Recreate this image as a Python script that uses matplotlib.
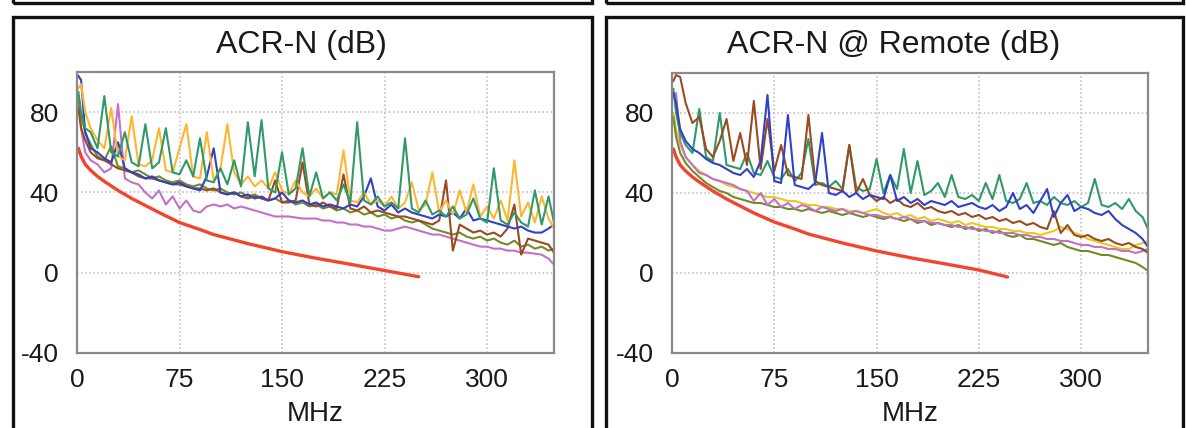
import matplotlib.pyplot as plt
from matplotlib.patches import Rectangle

plt.rcParams['font.family'] = ['Liberation Sans', 'DejaVu Sans']
plt.rcParams['axes.unicode_minus'] = False

W, H = 1186, 428

# frequency points (MHz) shared by the measured traces
freq = [1, 3, 6, 10, 15, 20, 25, 30, 35, 40,
        45, 50, 55, 60, 65, 70, 75, 80, 85, 90,
        95, 100, 105, 110, 115, 120, 125, 130, 135, 140,
        145, 150, 155, 160, 165, 170, 175, 180, 185, 190,
        195, 200, 205, 210, 215, 220, 225, 230, 235, 240,
        245, 250, 255, 260, 265, 270, 275, 280, 285, 290,
        295, 300, 305, 310, 315, 320, 325, 330, 335, 340,
        345, 349]

# limit line
lim_freq_l = [1, 3, 6, 10, 15, 20, 30, 40, 50, 60, 75, 90, 100, 125, 150, 175, 200, 225, 250]
lim_l = [62, 58, 54, 51, 48, 45.5, 41, 37, 33.5, 30, 25, 21.5, 19, 14.5, 10.5, 7.2, 4.2, 1.1, -2]
lim_freq_r = [1, 3, 6, 10, 15, 20, 30, 40, 50, 60, 75, 90, 100, 125, 150, 175, 200, 225, 246]
lim_r = [62, 58, 54, 51, 48, 45.5, 41, 37, 33.5, 30, 25.5, 22, 19.5, 15, 11, 7.6, 4.6, 1.5, -2]

# ---- ACR-N (dB), local end ----
green_l = [90, 80, 72, 70, 62, 88, 60, 58, 70, 55,
           53, 74, 52, 55, 72, 50, 49, 56, 48, 67,
           46, 45, 52, 44, 56, 43, 75, 48, 76, 42,
           40, 60, 39, 42, 62, 38, 50, 37, 40, 36,
           44, 35, 75, 36, 34, 38, 33, 35, 32, 67,
           32, 30, 36, 29, 31, 28, 33, 27, 29, 37,
           27, 25, 52, 26, 24, 30, 25, 23, 41, 24,
           38, 25]
orange_l = [92, 94, 80, 72, 66, 62, 82, 58, 56, 78,
            54, 53, 56, 72, 51, 50, 62, 74, 48, 47,
            70, 46, 52, 74, 50, 44, 48, 43, 46, 42,
            50, 41, 39, 46, 40, 38, 42, 37, 40, 39,
            61, 36, 35, 40, 34, 36, 33, 38, 32, 35,
            45, 31, 34, 50, 30, 36, 29, 41, 30, 44,
            28, 33, 27, 36, 26, 56, 28, 35, 25, 38,
            27, 22]
blue_l = [98, 96, 70, 62, 60, 57, 55, 65, 52, 50,
          49, 47, 48, 46, 45, 44, 45, 43, 42, 41,
          48, 62, 40, 39, 40, 38, 39, 37, 38, 36,
          37, 40, 36, 35, 36, 34, 35, 33, 34, 33,
          32, 34, 33, 38, 47, 33, 31, 34, 30, 32,
          30, 29, 28, 27, 29, 28, 30, 27, 32, 26,
          27, 26, 25, 24, 23, 22, 23, 21, 20, 20,
          22, 24]
brown_l = [82, 72, 66, 60, 57, 56, 54, 52, 51, 50,
           48, 47, 47, 46, 45, 44, 44, 43, 42, 42,
           41, 42, 40, 39, 40, 38, 37, 38, 37, 36,
           46, 35, 35, 36, 55, 34, 33, 35, 33, 32,
           49, 32, 31, 33, 30, 31, 30, 29, 28, 28,
           27, 26, 25, 24, 26, 46, 11, 24, 22, 20,
           21, 19, 20, 18, 22, 34, 9, 17, 16, 15,
           14, 10]
olive_l = [88, 78, 70, 64, 58, 56, 63, 53, 52, 50,
           51, 49, 47, 48, 46, 45, 46, 44, 43, 44,
           42, 41, 42, 40, 39, 40, 38, 39, 37, 36,
           37, 35, 36, 34, 35, 33, 34, 32, 33, 31,
           32, 30, 31, 29, 30, 28, 29, 27, 28, 26,
           25, 26, 24, 22, 21, 20, 19, 20, 18, 17,
           18, 16, 17, 15, 14, 16, 13, 14, 12, 13,
           11, 12]
violet_l = [86, 72, 60, 56, 54, 50, 52, 84, 47, 45,
            44, 40, 37, 41, 34, 38, 32, 36, 31, 30,
            33, 34, 33, 34, 32, 33, 32, 31, 30, 29,
            28, 28, 28, 27.5, 27, 27, 27, 26, 26, 25,
            25, 24, 24, 23, 23, 22, 21, 21, 22, 23,
            22, 21, 20, 19, 19, 18, 17, 16, 15, 14,
            13, 13, 12, 12, 11, 11, 10, 10, 9.5, 9,
            7, 4]

# ---- ACR-N @ Remote (dB) ----
green_r = [92, 80, 70, 64, 60, 82, 58, 56, 80, 54,
           53, 52, 60, 50, 49, 56, 48, 47, 52, 46,
           50, 67, 44, 45, 43, 46, 42, 64, 43, 41,
           42, 57, 40, 49, 42, 62, 40, 56, 39, 41,
           45, 38, 49, 38, 37, 39, 36, 45, 37, 49,
           36, 35, 37, 45, 35, 36, 34, 38, 35, 34,
           36, 33, 35, 47, 34, 33, 35, 32, 37, 31,
           28, 22]
blue_r = [90, 85, 72, 66, 62, 60, 57, 55, 54, 52,
          50, 49, 52, 48, 56, 89, 46, 45, 79, 44,
          43, 42, 45, 70, 40, 39, 41, 38, 40, 37,
          39, 38, 37, 49, 36, 38, 35, 37, 34, 36,
          35, 34, 36, 33, 34, 35, 33, 32, 34, 31,
          33, 40, 32, 34, 30, 36, 42, 28, 35, 39,
          31, 33, 32, 30, 29, 31, 27, 24, 22, 20,
          17, 13]
brown_r = [96, 99, 98, 85, 75, 78, 62, 58, 66, 77,
           56, 70, 54, 86, 52, 77, 51, 64, 49, 48,
           47, 79, 46, 44, 43, 42, 41, 64, 40, 47,
           39, 36, 38, 35, 37, 34, 33, 35, 32, 33,
           31, 30, 31, 29, 30, 28, 29, 27, 28, 26,
           27, 25, 26, 24, 25, 23, 22, 31, 20, 24,
           19, 18, 19, 17, 16, 17, 15, 14, 15, 13,
           12, 10]
yellow_r = [80, 72, 64, 58, 54, 51, 49, 47, 46, 44,
            43, 42, 41, 40, 39, 38, 38, 37, 36, 36,
            35, 34, 34, 33, 33, 32, 32, 31, 31, 30,
            31, 32, 30, 29, 30, 28, 29, 27, 28, 26,
            27, 26, 25, 26, 24, 25, 24, 23, 23, 22,
            22, 21, 21, 20, 20, 19, 20, 21, 23, 22,
            20, 19, 17, 16, 15, 14, 13, 12, 12, 14,
            15, 16]
olive_r = [78, 68, 60, 55, 51, 48, 45, 43, 41, 40,
           38, 37, 36, 35, 35, 34, 33, 33, 32, 32,
           31, 32, 31, 30, 31, 30, 29, 30, 29, 28,
           29, 28, 27, 28, 27, 26, 27, 25, 26, 24,
           25, 24, 23, 24, 22, 23, 21, 22, 20, 21,
           19, 18, 19, 17, 17, 16, 15, 14, 15, 13,
           12, 11, 11, 10, 9, 9, 8, 7, 6, 5,
           3, 1]
violet_r = [88, 90, 66, 58, 54, 50, 49, 47, 46, 45,
            44, 42, 41, 36, 40, 34, 37, 33, 35, 32,
            34, 33, 31, 33, 32, 31, 32, 30, 31, 30,
            29, 29, 28, 28, 27, 28, 27, 26, 26, 25,
            25, 24, 24, 23, 23, 22, 22, 21, 21, 20,
            20, 20, 19, 19, 18, 18, 17, 17, 16, 16,
            15, 14, 14, 13, 13, 12, 12, 11, 11, 10,
            11, 12]

xticks = [0, 75, 150, 225, 300]
yticks = [-40, 0, 40, 80]

C = {'green': '#2f9a68', 'orange': '#ffb530', 'blue': '#3040c8', 'brown': '#9a4a20',
     'olive': '#6f8d25', 'violet': '#c46fc8', 'yellow': '#e9c91e', 'red': '#f2442e'}
TXT = '#1a1a1a'

fig = plt.figure(figsize=(W / 100, H / 100), dpi=100)


def px_rect(x0, y0, x1, y1):
    # figure-fraction rect from pixel coords (top-left origin)
    return [x0 / W, 1 - y1 / H, (x1 - x0) / W, (y1 - y0) / H]


# panel frames (including cut-off ones above)
for x0, x1 in [(13, 592), (606, 1183)]:
    for y0, y1 in [(-30, 3), (17, 460)]:
        fig.patches.append(Rectangle((x0 / W, 1 - y1 / H), (x1 - x0) / W, (y1 - y0) / H,
                                     transform=fig.transFigure, fill=False,
                                     edgecolor='#111111', linewidth=2.4))


def panel(rect, title, tx, series, lim_f, lim_v):
    ax = fig.add_axes(px_rect(*rect))
    for vals, col in series:
        ax.plot(freq, vals, color=C[col], linewidth=1.5)
    ax.plot(lim_f, lim_v, color=C['red'], linewidth=2.4, solid_capstyle='round')
    ax.set_xlim(0, 349)
    ax.set_ylim(-40, 100)
    ax.set_xticks(xticks)
    ax.set_yticks(yticks)
    ax.grid(True, color='#b8b8b8', linestyle=':', linewidth=1.1)
    ax.set_axisbelow(True)
    for s in ax.spines.values():
        s.set_color('#8a8a8a')
        s.set_linewidth(1.6)
    ax.tick_params(length=0, labelsize=19, colors=TXT, pad=11)
    ax.tick_params(axis='y', pad=13)
    fig.text(tx / W, 1 - 45 / H, title, ha='center', va='center', fontsize=23, color=TXT)
    fig.text((rect[0] + rect[2]) / 2 / W, 1 - 414 / H, 'MHz', ha='center', va='center',
             fontsize=20, color=TXT)
    return ax


panel((77, 72, 554, 353), 'ACR-N (dB)', 301,
      [(violet_l, 'violet'), (olive_l, 'olive'), (brown_l, 'brown'),
       (blue_l, 'blue'), (orange_l, 'orange'), (green_l, 'green')],
      lim_freq_l, lim_l)
panel((672, 73, 1148, 353), 'ACR-N @ Remote (dB)', 894,
      [(yellow_r, 'yellow'), (olive_r, 'olive'), (violet_r, 'violet'),
       (green_r, 'green'), (brown_r, 'brown'), (blue_r, 'blue')],
      lim_freq_r, lim_r)

fig.savefig('out.png', dpi=100)
